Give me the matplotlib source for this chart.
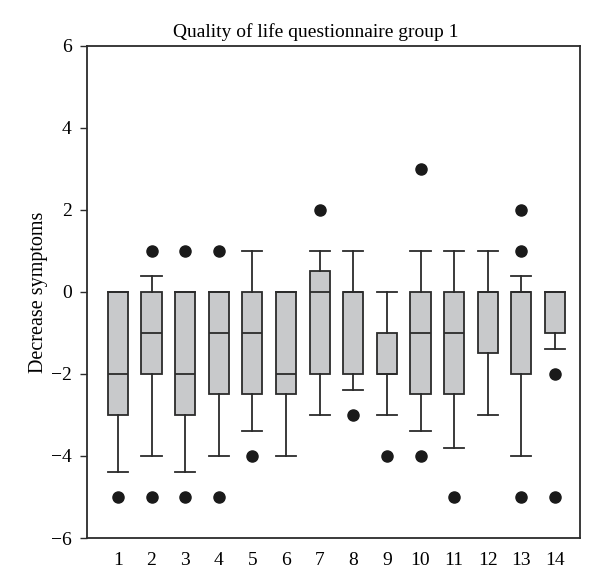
import matplotlib
matplotlib.use("Agg")
import matplotlib.pyplot as plt

plt.rcParams['font.family'] = ['Liberation Serif', 'DejaVu Serif']

groups = list(range(1, 15))
q1 = [-3, -2, -3, -2.5, -2.5, -2.5, -2, -2, -2, -2.5, -2.5, -1.5, -2, -1]
med = [-2, -1, -2, -1, -1, -2, 0, 0, -2, -1, -1, 0, 0, 0]
q3 = [0, 0, 0, 0, 0, 0, 0.5, 0, -1, 0, 0, 0, 0, 0]
whislo = [-4.4, -4, -4.4, -4, -3.4, -4, -3, -2.4, -3, -3.4, -3.8, -3, -4, -1.4]
whishi = [0, 0.4, 0, 0, 1, 0, 1, 1, 0, 1, 1, 1, 0.4, 0]
fliers = [[-5], [1, -5], [1, -5], [1, -5], [-4], [], [2], [-3], [-4],
          [3, -4], [-5], [], [2, 1, -5], [-2, -5]]

stats = []
for i in range(len(groups)):
    stats.append({'q1': q1[i], 'med': med[i], 'q3': q3[i],
                  'whislo': whislo[i], 'whishi': whishi[i],
                  'fliers': fliers[i]})

fig = plt.figure(figsize=(6, 5.88), dpi=100)
ax = fig.add_axes([0.145, 0.085, 0.822, 0.837])

edge = '#2b2b2b'
ax.bxp(stats, positions=groups, widths=0.6, patch_artist=True,
       boxprops=dict(facecolor='#c8c9cb', edgecolor=edge, linewidth=1.3),
       medianprops=dict(color=edge, linewidth=1.3),
       whiskerprops=dict(color=edge, linewidth=1.3),
       capprops=dict(color=edge, linewidth=1.3),
       flierprops=dict(marker='o', markerfacecolor='#1a1a1a',
                       markeredgecolor='#1a1a1a', markersize=8),
       capwidths=0.6)

ax.set_xlim(0.08, 14.75)
ax.set_ylim(-6, 6)
ax.set_yticks(range(-6, 7, 2))
ax.set_yticklabels(['\u22126', '\u22124', '\u22122', '0', '2', '4', '6'])
ax.set_xticks(groups)
ax.set_xticklabels([str(g) for g in groups])
ax.tick_params(axis='x', length=0, pad=10, labelsize=14)
ax.tick_params(axis='y', length=5, width=1, pad=6, labelsize=14, color=edge)
for s in ax.spines.values():
    s.set_color(edge)
    s.set_linewidth(1.3)

ax.set_ylabel('Decrease symptoms', fontsize=14.5, labelpad=2)
fig.text(0.527, 0.937, 'Quality of life questionnaire group 1', fontsize=14,
         ha='center', va='baseline')

fig.savefig('out.png', dpi=100)
